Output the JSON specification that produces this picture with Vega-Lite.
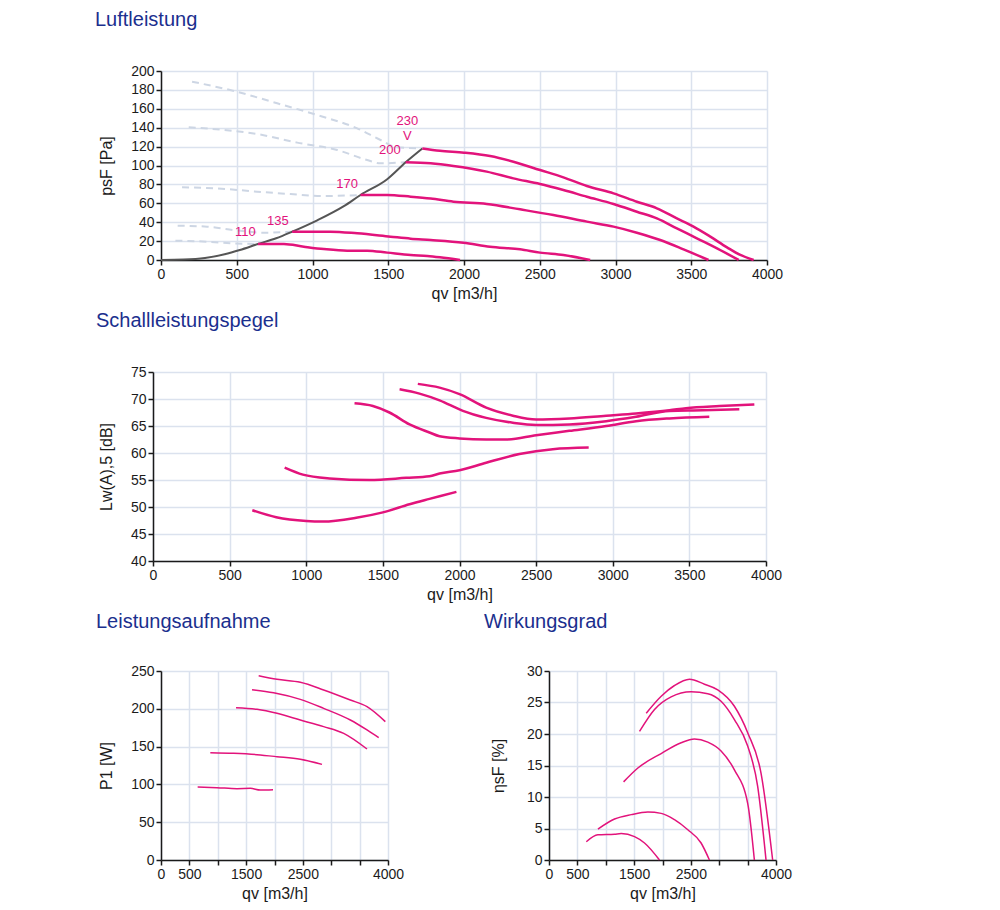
{
  "$schema": "https://vega.github.io/schema/vega-lite/v6.json",
  "background": "white",
  "padding": {"left": 95, "top": 10, "right": 10, "bottom": 5},
  "spacing": 10,
  "config": {
    "font": "Liberation Sans",
    "view": {"stroke": null},
    "line": {"interpolate": "monotone"},
    "axis": {
      "labelFont": "Liberation Sans",
      "labelFontSize": 14,
      "labelColor": "#1b1b1b",
      "labelPadding": 2,
      "labelOverlap": false,
      "labelFlush": false,
      "format": "d",
      "titleFont": "Liberation Sans",
      "titleFontSize": 16,
      "titleFontWeight": "normal",
      "titleColor": "#1b1b1b",
      "gridColor": "#dbe2ee",
      "gridWidth": 1.5,
      "domainColor": "#1a1a1a",
      "domainWidth": 1.5,
      "tickColor": "#1a1a1a",
      "tickWidth": 1.5,
      "tickSize": 5
    },
    "title": {
      "font": "Liberation Sans",
      "fontSize": 20,
      "fontWeight": "normal",
      "color": "#1b2f8e",
      "anchor": "start",
      "frame": "group",
      "offset": 34
    }
  },
  "datasets": {
    "luft": [
      {"kurve": "230 V", "qv": 1725, "psF": 118},
      {"kurve": "230 V", "qv": 1841, "psF": 115.6},
      {"kurve": "230 V", "qv": 2000, "psF": 113.6},
      {"kurve": "230 V", "qv": 2172, "psF": 110},
      {"kurve": "230 V", "qv": 2326, "psF": 104},
      {"kurve": "230 V", "qv": 2502, "psF": 95.2},
      {"kurve": "230 V", "qv": 2656, "psF": 87.5},
      {"kurve": "230 V", "qv": 2811, "psF": 78.3},
      {"kurve": "230 V", "qv": 2987, "psF": 70.5},
      {"kurve": "230 V", "qv": 3141, "psF": 61.7},
      {"kurve": "230 V", "qv": 3273, "psF": 54.7},
      {"kurve": "230 V", "qv": 3405, "psF": 44},
      {"kurve": "230 V", "qv": 3515, "psF": 35.3},
      {"kurve": "230 V", "qv": 3626, "psF": 24.7},
      {"kurve": "230 V", "qv": 3736, "psF": 13.4},
      {"kurve": "230 V", "qv": 3824, "psF": 5.3},
      {"kurve": "230 V", "qv": 3912, "psF": 0},
      {"kurve": "200 V", "qv": 1615, "psF": 103.4},
      {"kurve": "200 V", "qv": 1780, "psF": 102.3},
      {"kurve": "200 V", "qv": 1930, "psF": 99.5},
      {"kurve": "200 V", "qv": 2150, "psF": 93.5},
      {"kurve": "200 V", "qv": 2326, "psF": 86.4},
      {"kurve": "200 V", "qv": 2502, "psF": 80.4},
      {"kurve": "200 V", "qv": 2656, "psF": 74},
      {"kurve": "200 V", "qv": 2811, "psF": 67},
      {"kurve": "200 V", "qv": 2987, "psF": 59.3},
      {"kurve": "200 V", "qv": 3141, "psF": 51.1},
      {"kurve": "200 V", "qv": 3273, "psF": 44},
      {"kurve": "200 V", "qv": 3405, "psF": 33.5},
      {"kurve": "200 V", "qv": 3537, "psF": 22.9},
      {"kurve": "200 V", "qv": 3670, "psF": 12.3},
      {"kurve": "200 V", "qv": 3813, "psF": 0},
      {"kurve": "170 V", "qv": 1317, "psF": 68.8},
      {"kurve": "170 V", "qv": 1493, "psF": 68.8},
      {"kurve": "170 V", "qv": 1648, "psF": 67},
      {"kurve": "170 V", "qv": 1780, "psF": 65},
      {"kurve": "170 V", "qv": 1930, "psF": 61.7},
      {"kurve": "170 V", "qv": 2150, "psF": 59.3},
      {"kurve": "170 V", "qv": 2370, "psF": 53.6},
      {"kurve": "170 V", "qv": 2590, "psF": 47.6},
      {"kurve": "170 V", "qv": 2811, "psF": 40.6},
      {"kurve": "170 V", "qv": 2987, "psF": 35.3},
      {"kurve": "170 V", "qv": 3141, "psF": 28.9},
      {"kurve": "170 V", "qv": 3295, "psF": 21.2},
      {"kurve": "170 V", "qv": 3449, "psF": 11.3},
      {"kurve": "170 V", "qv": 3614, "psF": 0},
      {"kurve": "135 V", "qv": 866, "psF": 30},
      {"kurve": "135 V", "qv": 1119, "psF": 30},
      {"kurve": "135 V", "qv": 1295, "psF": 28.2},
      {"kurve": "135 V", "qv": 1515, "psF": 24.7},
      {"kurve": "135 V", "qv": 1648, "psF": 22.6},
      {"kurve": "135 V", "qv": 1780, "psF": 21.2},
      {"kurve": "135 V", "qv": 1996, "psF": 18.3},
      {"kurve": "135 V", "qv": 2172, "psF": 14.1},
      {"kurve": "135 V", "qv": 2370, "psF": 11.3},
      {"kurve": "135 V", "qv": 2502, "psF": 7.8},
      {"kurve": "135 V", "qv": 2656, "psF": 5.3},
      {"kurve": "135 V", "qv": 2833, "psF": 0},
      {"kurve": "110 V", "qv": 640, "psF": 16.9},
      {"kurve": "110 V", "qv": 811, "psF": 16.9},
      {"kurve": "110 V", "qv": 943, "psF": 14.1},
      {"kurve": "110 V", "qv": 1075, "psF": 11.6},
      {"kurve": "110 V", "qv": 1229, "psF": 9.9},
      {"kurve": "110 V", "qv": 1361, "psF": 9.9},
      {"kurve": "110 V", "qv": 1493, "psF": 7.8},
      {"kurve": "110 V", "qv": 1648, "psF": 5.3},
      {"kurve": "110 V", "qv": 1758, "psF": 4.2},
      {"kurve": "110 V", "qv": 1841, "psF": 2.8},
      {"kurve": "110 V", "qv": 1974, "psF": 0}
    ],
    "luft_instabil": [
      {"kurve": "230 V", "qv": 205, "psF": 188.7},
      {"kurve": "230 V", "qv": 502, "psF": 178},
      {"kurve": "230 V", "qv": 767, "psF": 165.8},
      {"kurve": "230 V", "qv": 1031, "psF": 153.4},
      {"kurve": "230 V", "qv": 1295, "psF": 139.3},
      {"kurve": "230 V", "qv": 1449, "psF": 127},
      {"kurve": "230 V", "qv": 1559, "psF": 119.2},
      {"kurve": "230 V", "qv": 1725, "psF": 118},
      {"kurve": "200 V", "qv": 183, "psF": 140.4},
      {"kurve": "200 V", "qv": 414, "psF": 137.6},
      {"kurve": "200 V", "qv": 634, "psF": 133.3},
      {"kurve": "200 V", "qv": 899, "psF": 124.2},
      {"kurve": "200 V", "qv": 1163, "psF": 116.4},
      {"kurve": "200 V", "qv": 1361, "psF": 105.8},
      {"kurve": "200 V", "qv": 1449, "psF": 102.3},
      {"kurve": "200 V", "qv": 1615, "psF": 103.4},
      {"kurve": "170 V", "qv": 139, "psF": 76.9},
      {"kurve": "170 V", "qv": 370, "psF": 75.8},
      {"kurve": "170 V", "qv": 634, "psF": 72.3},
      {"kurve": "170 V", "qv": 855, "psF": 69.8},
      {"kurve": "170 V", "qv": 1075, "psF": 67.7},
      {"kurve": "170 V", "qv": 1317, "psF": 68.8},
      {"kurve": "135 V", "qv": 110, "psF": 36.3},
      {"kurve": "135 V", "qv": 304, "psF": 35.3},
      {"kurve": "135 V", "qv": 480, "psF": 31.7},
      {"kurve": "135 V", "qv": 678, "psF": 28.9},
      {"kurve": "135 V", "qv": 866, "psF": 30},
      {"kurve": "110 V", "qv": 95, "psF": 20.5},
      {"kurve": "110 V", "qv": 304, "psF": 19.4},
      {"kurve": "110 V", "qv": 480, "psF": 17.6},
      {"kurve": "110 V", "qv": 640, "psF": 16.9}
    ],
    "anlage": [
      {"qv": 0, "psF": 0},
      {"qv": 150, "psF": 0.4},
      {"qv": 290, "psF": 2},
      {"qv": 420, "psF": 6},
      {"qv": 520, "psF": 10.5},
      {"qv": 640, "psF": 16.9},
      {"qv": 760, "psF": 23},
      {"qv": 866, "psF": 30},
      {"qv": 1031, "psF": 42},
      {"qv": 1207, "psF": 57},
      {"qv": 1317, "psF": 68.8},
      {"qv": 1493, "psF": 85.5},
      {"qv": 1615, "psF": 103.4},
      {"qv": 1725, "psF": 118}
    ],
    "luft_beschriftung": [
      {"t": "230\nV", "qv": 1626, "psF": 147},
      {"t": "200", "qv": 1511, "psF": 116.4},
      {"t": "170", "qv": 1229, "psF": 80.4},
      {"t": "135", "qv": 771, "psF": 41.6},
      {"t": "110", "qv": 557, "psF": 29.3}
    ],
    "schall": [
      {"kurve": "110 V", "qv": 648, "lw": 49.4},
      {"kurve": "110 V", "qv": 804, "lw": 48.1},
      {"kurve": "110 V", "qv": 1000, "lw": 47.4},
      {"kurve": "110 V", "qv": 1109, "lw": 47.3},
      {"kurve": "110 V", "qv": 1326, "lw": 48.0},
      {"kurve": "110 V", "qv": 1500, "lw": 49.0},
      {"kurve": "110 V", "qv": 1674, "lw": 50.5},
      {"kurve": "110 V", "qv": 1804, "lw": 51.5},
      {"kurve": "110 V", "qv": 1870, "lw": 52.0},
      {"kurve": "110 V", "qv": 1980, "lw": 52.8},
      {"kurve": "135 V", "qv": 859, "lw": 57.3},
      {"kurve": "135 V", "qv": 978, "lw": 56.0},
      {"kurve": "135 V", "qv": 1152, "lw": 55.3},
      {"kurve": "135 V", "qv": 1413, "lw": 55.0},
      {"kurve": "135 V", "qv": 1652, "lw": 55.4},
      {"kurve": "135 V", "qv": 1804, "lw": 55.7},
      {"kurve": "135 V", "qv": 1870, "lw": 56.2},
      {"kurve": "135 V", "qv": 2000, "lw": 56.8},
      {"kurve": "135 V", "qv": 2174, "lw": 58.2},
      {"kurve": "135 V", "qv": 2391, "lw": 59.8},
      {"kurve": "135 V", "qv": 2609, "lw": 60.7},
      {"kurve": "135 V", "qv": 2843, "lw": 61.0},
      {"kurve": "170 V", "qv": 1315, "lw": 69.2},
      {"kurve": "170 V", "qv": 1435, "lw": 68.7},
      {"kurve": "170 V", "qv": 1543, "lw": 67.5},
      {"kurve": "170 V", "qv": 1674, "lw": 65.3},
      {"kurve": "170 V", "qv": 1804, "lw": 63.8},
      {"kurve": "170 V", "qv": 1870, "lw": 63.1},
      {"kurve": "170 V", "qv": 2000, "lw": 62.7},
      {"kurve": "170 V", "qv": 2174, "lw": 62.5},
      {"kurve": "170 V", "qv": 2304, "lw": 62.5},
      {"kurve": "170 V", "qv": 2500, "lw": 63.3},
      {"kurve": "170 V", "qv": 2717, "lw": 64.1},
      {"kurve": "170 V", "qv": 2957, "lw": 65.0},
      {"kurve": "170 V", "qv": 3152, "lw": 65.9},
      {"kurve": "170 V", "qv": 3370, "lw": 66.4},
      {"kurve": "170 V", "qv": 3630, "lw": 66.7},
      {"kurve": "200 V", "qv": 1609, "lw": 71.8},
      {"kurve": "200 V", "qv": 1739, "lw": 71.0},
      {"kurve": "200 V", "qv": 1870, "lw": 69.75},
      {"kurve": "200 V", "qv": 2022, "lw": 67.8},
      {"kurve": "200 V", "qv": 2174, "lw": 66.5},
      {"kurve": "200 V", "qv": 2348, "lw": 65.6},
      {"kurve": "200 V", "qv": 2500, "lw": 65.2},
      {"kurve": "200 V", "qv": 2717, "lw": 65.3},
      {"kurve": "200 V", "qv": 2957, "lw": 65.9},
      {"kurve": "200 V", "qv": 3152, "lw": 66.7},
      {"kurve": "200 V", "qv": 3370, "lw": 67.8},
      {"kurve": "200 V", "qv": 3587, "lw": 67.9},
      {"kurve": "200 V", "qv": 3826, "lw": 68.1},
      {"kurve": "230 V", "qv": 1728, "lw": 72.8},
      {"kurve": "230 V", "qv": 1870, "lw": 72.1},
      {"kurve": "230 V", "qv": 2000, "lw": 70.9},
      {"kurve": "230 V", "qv": 2174, "lw": 68.4},
      {"kurve": "230 V", "qv": 2348, "lw": 66.9},
      {"kurve": "230 V", "qv": 2500, "lw": 66.2},
      {"kurve": "230 V", "qv": 2717, "lw": 66.4},
      {"kurve": "230 V", "qv": 2957, "lw": 66.9},
      {"kurve": "230 V", "qv": 3152, "lw": 67.3},
      {"kurve": "230 V", "qv": 3370, "lw": 67.9},
      {"kurve": "230 V", "qv": 3478, "lw": 68.3},
      {"kurve": "230 V", "qv": 3696, "lw": 68.7},
      {"kurve": "230 V", "qv": 3924, "lw": 69.0}
    ],
    "leistung": [
      {"kurve": "110 V", "qv": 646, "p1": 96.6},
      {"kurve": "110 V", "qv": 987, "p1": 95.7},
      {"kurve": "110 V", "qv": 1339, "p1": 94.4},
      {"kurve": "110 V", "qv": 1574, "p1": 94.8},
      {"kurve": "110 V", "qv": 1750, "p1": 92.6},
      {"kurve": "110 V", "qv": 1974, "p1": 93.0},
      {"kurve": "135 V", "qv": 869, "p1": 142},
      {"kurve": "135 V", "qv": 1280, "p1": 141.1},
      {"kurve": "135 V", "qv": 1692, "p1": 139.3},
      {"kurve": "135 V", "qv": 2044, "p1": 136.7},
      {"kurve": "135 V", "qv": 2455, "p1": 133.2},
      {"kurve": "135 V", "qv": 2837, "p1": 126.5},
      {"kurve": "170 V", "qv": 1322, "p1": 201.5},
      {"kurve": "170 V", "qv": 1692, "p1": 199.3},
      {"kurve": "170 V", "qv": 2044, "p1": 194},
      {"kurve": "170 V", "qv": 2455, "p1": 185.2},
      {"kurve": "170 V", "qv": 2866, "p1": 176.4},
      {"kurve": "170 V", "qv": 3219, "p1": 167.5},
      {"kurve": "170 V", "qv": 3630, "p1": 146.8},
      {"kurve": "200 V", "qv": 1604, "p1": 225.3},
      {"kurve": "200 V", "qv": 1985, "p1": 221.3},
      {"kurve": "200 V", "qv": 2455, "p1": 212.5},
      {"kurve": "200 V", "qv": 2866, "p1": 200.6},
      {"kurve": "200 V", "qv": 3336, "p1": 185.2},
      {"kurve": "200 V", "qv": 3630, "p1": 172},
      {"kurve": "200 V", "qv": 3836, "p1": 161.8},
      {"kurve": "230 V", "qv": 1721, "p1": 243.8},
      {"kurve": "230 V", "qv": 2044, "p1": 239},
      {"kurve": "230 V", "qv": 2455, "p1": 235},
      {"kurve": "230 V", "qv": 2866, "p1": 224.9},
      {"kurve": "230 V", "qv": 3336, "p1": 211.6},
      {"kurve": "230 V", "qv": 3630, "p1": 202.8},
      {"kurve": "230 V", "qv": 3953, "p1": 183}
    ],
    "wirkung": [
      {"kurve": "110 V", "qv": 657, "eta": 2.9},
      {"kurve": "110 V", "qv": 862, "eta": 4.0},
      {"kurve": "110 V", "qv": 1155, "eta": 4.1},
      {"kurve": "110 V", "qv": 1273, "eta": 4.2},
      {"kurve": "110 V", "qv": 1507, "eta": 3.7},
      {"kurve": "110 V", "qv": 1683, "eta": 2.7},
      {"kurve": "110 V", "qv": 1947, "eta": 0},
      {"kurve": "135 V", "qv": 862, "eta": 4.9},
      {"kurve": "135 V", "qv": 1155, "eta": 6.5},
      {"kurve": "135 V", "qv": 1449, "eta": 7.2},
      {"kurve": "135 V", "qv": 1742, "eta": 7.6},
      {"kurve": "135 V", "qv": 1977, "eta": 7.4},
      {"kurve": "135 V", "qv": 2211, "eta": 6.4},
      {"kurve": "135 V", "qv": 2446, "eta": 4.8},
      {"kurve": "135 V", "qv": 2680, "eta": 2.7},
      {"kurve": "135 V", "qv": 2827, "eta": 0},
      {"kurve": "170 V", "qv": 1314, "eta": 12.4},
      {"kurve": "170 V", "qv": 1566, "eta": 14.6},
      {"kurve": "170 V", "qv": 1977, "eta": 16.9},
      {"kurve": "170 V", "qv": 2328, "eta": 18.6},
      {"kurve": "170 V", "qv": 2563, "eta": 19.2},
      {"kurve": "170 V", "qv": 2798, "eta": 18.7},
      {"kurve": "170 V", "qv": 3032, "eta": 17.3},
      {"kurve": "170 V", "qv": 3267, "eta": 14.3},
      {"kurve": "170 V", "qv": 3501, "eta": 9.0},
      {"kurve": "170 V", "qv": 3619, "eta": 0},
      {"kurve": "200 V", "qv": 1595, "eta": 20.4},
      {"kurve": "200 V", "qv": 1859, "eta": 23.9},
      {"kurve": "200 V", "qv": 2152, "eta": 25.9},
      {"kurve": "200 V", "qv": 2504, "eta": 26.7},
      {"kurve": "200 V", "qv": 2798, "eta": 26.4},
      {"kurve": "200 V", "qv": 3032, "eta": 25.2},
      {"kurve": "200 V", "qv": 3267, "eta": 22.3},
      {"kurve": "200 V", "qv": 3501, "eta": 18.1},
      {"kurve": "200 V", "qv": 3677, "eta": 11.7},
      {"kurve": "200 V", "qv": 3824, "eta": 0},
      {"kurve": "230 V", "qv": 1713, "eta": 23.3},
      {"kurve": "230 V", "qv": 1977, "eta": 26.0},
      {"kurve": "230 V", "qv": 2211, "eta": 27.7},
      {"kurve": "230 V", "qv": 2475, "eta": 28.7},
      {"kurve": "230 V", "qv": 2739, "eta": 27.9},
      {"kurve": "230 V", "qv": 2974, "eta": 27.0},
      {"kurve": "230 V", "qv": 3267, "eta": 24.4},
      {"kurve": "230 V", "qv": 3501, "eta": 20.2},
      {"kurve": "230 V", "qv": 3736, "eta": 13.8},
      {"kurve": "230 V", "qv": 3941, "eta": 0}
    ]
  },
  "vconcat": [
    {
      "title": {"text": "Luftleistung", "dx": -66},
      "width": 606,
      "height": 189,
      "encoding": {
        "x": {
          "field": "qv", "type": "quantitative",
          "scale": {"domain": [0, 4000], "nice": false},
          "axis": {"title": "qv [m3/h]", "values": [0, 500, 1000, 1500, 2000, 2500, 3000, 3500, 4000], "titlePadding": 4}
        },
        "y": {
          "field": "psF", "type": "quantitative",
          "scale": {"domain": [0, 200], "nice": false},
          "axis": {"title": "psF [Pa]", "values": [0, 20, 40, 60, 80, 100, 120, 140, 160, 180, 200], "titlePadding": 16}
        }
      },
      "layer": [
        {
          "data": {"name": "luft_instabil"},
          "mark": {"type": "line", "color": "#cdd6e4", "strokeWidth": 2, "strokeDash": [7, 5]},
          "encoding": {"detail": {"field": "kurve"}}
        },
        {
          "data": {"name": "anlage"},
          "mark": {"type": "line", "color": "#555555", "strokeWidth": 2},
          "encoding": {}
        },
        {
          "data": {"name": "luft"},
          "mark": {"type": "line", "color": "#e2137b", "strokeWidth": 2.5},
          "encoding": {"detail": {"field": "kurve"}}
        },
        {
          "data": {"name": "luft_beschriftung"},
          "mark": {"type": "text", "color": "#e2137b", "font": "Liberation Sans Narrow, Liberation Sans", "fontSize": 13, "lineBreak": "\n", "lineHeight": 15, "align": "center", "baseline": "middle"},
          "encoding": {"text": {"field": "t"}}
        }
      ]
    },
    {
      "title": {"text": "Schallleistungspegel", "dx": -65},
      "width": 605,
      "height": 189,
      "data": {"name": "schall"},
      "mark": {"type": "line", "color": "#e2137b", "strokeWidth": 2.5},
      "encoding": {
        "x": {
          "field": "qv", "type": "quantitative",
          "scale": {"domain": [0, 4000], "nice": false, "range": [-8, 605]},
          "axis": {"title": "qv [m3/h]", "values": [0, 500, 1000, 1500, 2000, 2500, 3000, 3500, 4000], "titlePadding": 4}
        },
        "y": {
          "field": "lw", "type": "quantitative",
          "scale": {"domain": [40, 75], "nice": false, "zero": false},
          "axis": {"title": "Lw(A),5 [dB]", "values": [40, 45, 50, 55, 60, 65, 70, 75], "titlePadding": 16, "offset": 8}
        },
        "detail": {"field": "kurve"}
      }
    },
    {
      "spacing": 80,
      "align": "none",
      "hconcat": [
        {
          "title": {"text": "Leistungsaufnahme", "dx": -65, "offset": 32},
          "width": 227,
          "height": 189,
          "data": {"name": "leistung"},
          "mark": {"type": "line", "color": "#e2137b", "strokeWidth": 1.5},
          "encoding": {
            "x": {
              "field": "qv", "type": "quantitative",
              "scale": {"domain": [0, 4000], "nice": false},
              "axis": {"title": "qv [m3/h]", "values": [0, 500, 1000, 1500, 2000, 2500, 3000, 3500, 4000], "labelExpr": "indexof([0, 500, 1500, 2500, 4000], datum.value) >= 0 ? datum.label : ''", "titlePadding": 4}
            },
            "y": {
              "field": "p1", "type": "quantitative",
              "scale": {"domain": [0, 250], "nice": false},
              "axis": {"title": "P1 [W]", "values": [0, 50, 100, 150, 200, 250], "titlePadding": 16}
            },
            "detail": {"field": "kurve"}
          }
        },
        {
          "title": {"text": "Wirkungsgrad", "dx": -65, "offset": 32},
          "width": 227,
          "height": 189,
          "data": {"name": "wirkung"},
          "mark": {"type": "line", "color": "#e2137b", "strokeWidth": 1.5},
          "encoding": {
            "x": {
              "field": "qv", "type": "quantitative",
              "scale": {"domain": [0, 4000], "nice": false},
              "axis": {"title": "qv [m3/h]", "values": [0, 500, 1000, 1500, 2000, 2500, 3000, 3500, 4000], "labelExpr": "indexof([0, 500, 1500, 2500, 4000], datum.value) >= 0 ? datum.label : ''", "titlePadding": 4}
            },
            "y": {
              "field": "eta", "type": "quantitative",
              "scale": {"domain": [0, 30], "nice": false},
              "axis": {"title": "ηsF [%]", "values": [0, 5, 10, 15, 20, 25, 30], "titlePadding": 20}
            },
            "detail": {"field": "kurve"}
          }
        }
      ]
    }
  ]
}
